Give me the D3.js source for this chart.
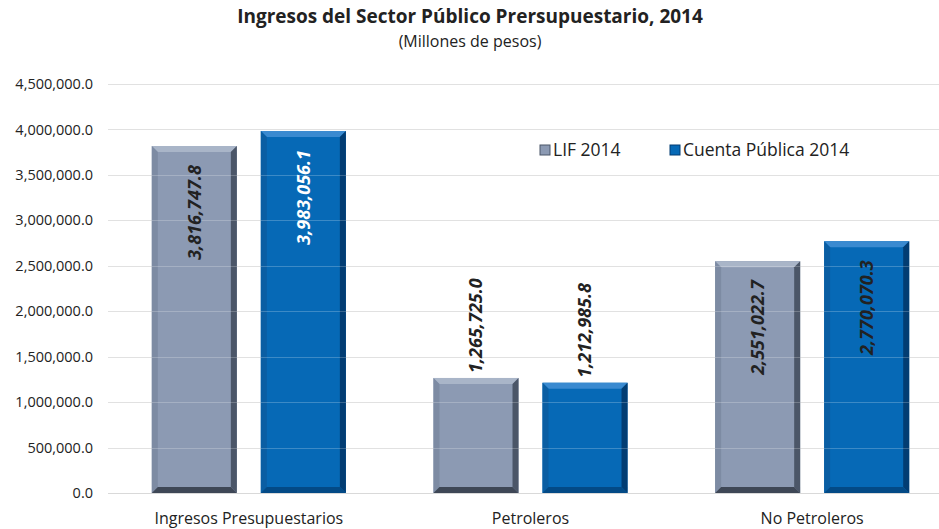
<!DOCTYPE html>
<html lang="es">
<head>
<meta charset="UTF-8">
<title>Ingresos del Sector Público Presupuestario, 2014</title>
<script src="https://d3js.org/d3.v7.min.js"></script>
<style>
  body { margin: 0; background: #fff; }
  text { font-family: "Open Sans", "Noto Sans", sans-serif; fill: #222; }
</style>
</head>
<body>
<script>
const categories = ["Ingresos Presupuestarios", "Petroleros", "No Petroleros"];
const series = ["LIF 2014", "Cuenta Pública 2014"];
const lif = [3816747.8, 1265725.0, 2551022.7];
const cuenta = [3983056.1, 1212985.8, 2770070.3];
const yTicks = [0, 500000, 1000000, 1500000, 2000000, 2500000, 3000000, 3500000, 4000000, 4500000];

const width = 939, height = 529;
const plotLeft = 108, plotRight = 953, plotTop = 84, plotBottom = 493;

// face, top bevel, left bevel, right bevel, bottom bevel
const palettes = [
  { face: "#8c9ab3", top: "#a9b5c8", left: "#7d8ba3", right: "#4b5668", bottom: "#3e4756" },
  { face: "#0669b6", top: "#3a8ad0", left: "#0a5ea3", right: "#023d73", bottom: "#034a86" }
];
const labelColors = [["#222", "#222", "#222"], ["#fff", "#222", "#222"]];
const labelInside = [true, false, true];

const svg = d3.select("body").append("svg")
  .attr("width", width)
  .attr("height", height);

const y = d3.scaleLinear().domain([0, 4500000]).range([plotBottom, plotTop]);
const x0 = d3.scaleBand().domain(categories).range([plotLeft, plotRight]).paddingInner(0.311).paddingOuter(0.1555);
const x1 = d3.scaleBand().domain(series).range([0, x0.bandwidth()]).paddingInner(0.22);

const fmt = d3.format(",.1f");

// gridlines
svg.append("g")
  .selectAll("line")
  .data(yTicks)
  .join("line")
  .attr("x1", plotLeft).attr("x2", width)
  .attr("y1", d => Math.round(y(d)) + 0.5).attr("y2", d => Math.round(y(d)) + 0.5)
  .attr("stroke", "#d9d9d9");

// y axis labels
svg.append("g")
  .selectAll("text")
  .data(yTicks)
  .join("text")
  .attr("x", 93)
  .attr("y", d => y(d))
  .attr("dy", "0.35em")
  .attr("text-anchor", "end")
  .style("font-size", "14.5px")
  .text(d => fmt(d));

const rows = categories.map((c, i) => [
  { cat: c, i, s: 0, value: lif[i] },
  { cat: c, i, s: 1, value: cuenta[i] }
]).flat();

const b = 6; // bevel size
const bars = svg.append("g")
  .selectAll("g")
  .data(rows)
  .join("g")
  .attr("transform", d => `translate(${x0(d.cat) + x1(series[d.s])},${y(d.value)})`);

bars.each(function(d) {
  const g = d3.select(this);
  const w = x1.bandwidth();
  const h = y(0) - y(d.value);
  const p = palettes[d.s];
  g.append("rect").attr("width", w).attr("height", h).attr("fill", p.face);
  g.append("polygon").attr("points", `0,0 ${w},0 ${w - b},${b} ${b},${b}`).attr("fill", p.top);
  g.append("polygon").attr("points", `0,0 ${b},${b} ${b},${h - b} 0,${h}`).attr("fill", p.left);
  g.append("polygon").attr("points", `${w},0 ${w},${h} ${w - b},${h - b} ${w - b},${b}`).attr("fill", p.right);
  g.append("polygon").attr("points", `0,${h} ${b},${h - b} ${w - b},${h - b} ${w},${h}`).attr("fill", p.bottom);
});

// faint gridlines showing through the bars
svg.append("g")
  .selectAll("line")
  .data(yTicks.slice(1))
  .join("line")
  .attr("x1", plotLeft).attr("x2", width)
  .attr("y1", d => Math.round(y(d)) + 0.5).attr("y2", d => Math.round(y(d)) + 0.5)
  .attr("stroke", "#ffffff")
  .attr("stroke-opacity", 0.22);

// value labels
svg.append("g")
  .selectAll("text")
  .data(rows)
  .join("text")
  .attr("transform", d => {
    const cx = x0(d.cat) + x1(series[d.s]) + x1.bandwidth() / 2;
    const yy = labelInside[d.i] ? y(d.value) + 19 : y(d.value) - 5;
    return `translate(${cx},${yy}) rotate(-90)`;
  })
  .attr("dy", "0.35em")
  .attr("text-anchor", d => labelInside[d.i] ? "end" : "start")
  .style("font-size", "18px")
  .style("font-weight", "bold")
  .style("font-style", "italic")
  .style("fill", d => labelColors[d.s][d.i])
  .text(d => fmt(d.value));

// category labels
svg.append("g")
  .selectAll("text")
  .data(categories)
  .join("text")
  .attr("x", d => x0(d) + x0.bandwidth() / 2)
  .attr("y", 518)
  .attr("dy", "0.35em")
  .attr("text-anchor", "middle")
  .style("font-size", "16px")
  .text(d => d);

// legend
const legendX = [540, 670];
const legend = svg.append("g")
  .selectAll("g")
  .data(series)
  .join("g")
  .attr("transform", (d, i) => `translate(${legendX[i]},150)`);
legend.append("rect")
  .attr("x", 0).attr("y", -5).attr("width", 10).attr("height", 10)
  .attr("fill", (d, i) => palettes[i].face)
  .attr("stroke", (d, i) => palettes[i].right).attr("stroke-width", 1);
legend.append("text")
  .attr("x", 13)
  .attr("dy", "0.35em")
  .style("font-size", "17.5px")
  .text(d => d);

// titles
svg.append("text")
  .attr("x", 470).attr("y", 23)
  .attr("text-anchor", "middle")
  .style("font-size", "19px")
  .style("font-weight", "bold")
  .text("Ingresos del Sector Público Prersupuestario, 2014");
svg.append("text")
  .attr("x", 470).attr("y", 47)
  .attr("text-anchor", "middle")
  .style("font-size", "16px")
  .text("(Millones de pesos)");
</script>
</body>
</html>
